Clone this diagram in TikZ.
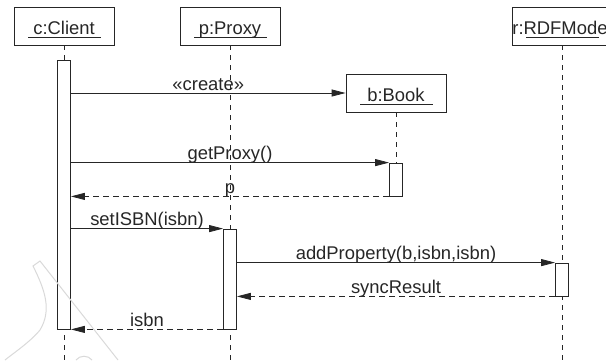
\documentclass[tikz,border=0pt]{standalone}
\usepackage{fontspec}
\setmainfont{Liberation Sans}
\usetikzlibrary{arrows.meta}

\newcommand{\objline}[1]{\draw ([xshift=-36pt,yshift=-11pt]#1.center) -- ([xshift=37pt,yshift=-11pt]#1.center);}

\begin{document}
\begin{tikzpicture}[x=1pt,y=1pt,line width=0.8pt,black!85]
    \tikzstyle{every node}=[font=\fontsize{18.4}{22}\selectfont]
    \tikzstyle{object}=[
        draw,
        shape=rectangle,
        minimum width=100pt,
        minimum height=38pt,
        inner sep=0pt,
        text height=17pt,
        text depth=0pt]
    \tikzstyle{bar}=[draw, fill=white, shape=rectangle, minimum width=13pt, inner sep=0pt]
    \tikzstyle{life}=[dash pattern=on 5pt off 5pt]
    \tikzstyle{msg}=[-{Triangle[length=14pt,width=7pt]}]
    \tikzstyle{ret}=[msg, dash pattern=on 6pt off 4pt]
    \tikzstyle{lbl}=[anchor=base, yshift=3pt]

    \clip (0,0) rectangle (606,-360);
    \coordinate (bottom) at (0,-360);

    % objects
    \node[object] (c) at (64,-26) {c:Client};
    \node[object, right of=c, node distance=166pt] (p) {p:Proxy};
    \node[object, right of=p, node distance=332pt] (r) {r:RDFModel};
    \node[object] (b) at (396,-93) {b:Book};
    \objline{c} \objline{p} \objline{r} \objline{b}

    % lifelines
    \draw[life] (c.south) -- (c.south |- bottom);
    \draw[life] (p.south) -- (p.south |- bottom);
    \draw[life] (r.south) -- (r.south |- bottom);

    % activations
    \node[bar, minimum height=269pt] (cact) at (64,-194.5) {};
    \node[bar, minimum height=100pt] (pact) at (230,-279) {};
    \node[bar, minimum height=33pt] (bact) at (396,-179.5) {};
    \node[bar, minimum height=33pt] (ract) at (562,-279.5) {};
    \draw[life] (b.south) -- (bact.north);

    % messages
    \path[msg] (cact.east |- b.west) edge node[lbl]{«create»} (b.west)
        (cact.east |- bact.north west) edge node[lbl]{getProxy()} (bact.north west)
        (cact.east |- pact.north west) edge node[lbl]{setISBN(isbn)} (pact.north west)
        (pact.east |- ract.north west) edge node[lbl]{addProperty(b,isbn,isbn)} (ract.north west);
    \path[ret] (bact.south west) edge node[lbl]{p} (cact.east |- bact.south west)
        (ract.south west) edge node[lbl]{syncResult} (pact.east |- ract.south west)
        (pact.south west) edge node[lbl]{isbn} (cact.south east);

    % watermark
    \draw[gray!30, line width=1pt] (5,-360) .. controls (15,-352) and (30,-342) .. (40,-330)
        .. controls (52,-310) and (45,-290) .. (33,-266) -- (40,-261) -- (118,-360);
    \draw[gray!30, line width=1pt] (76,-360) .. controls (80,-355) and (88,-355) .. (92,-360);
\end{tikzpicture}
\end{document}
